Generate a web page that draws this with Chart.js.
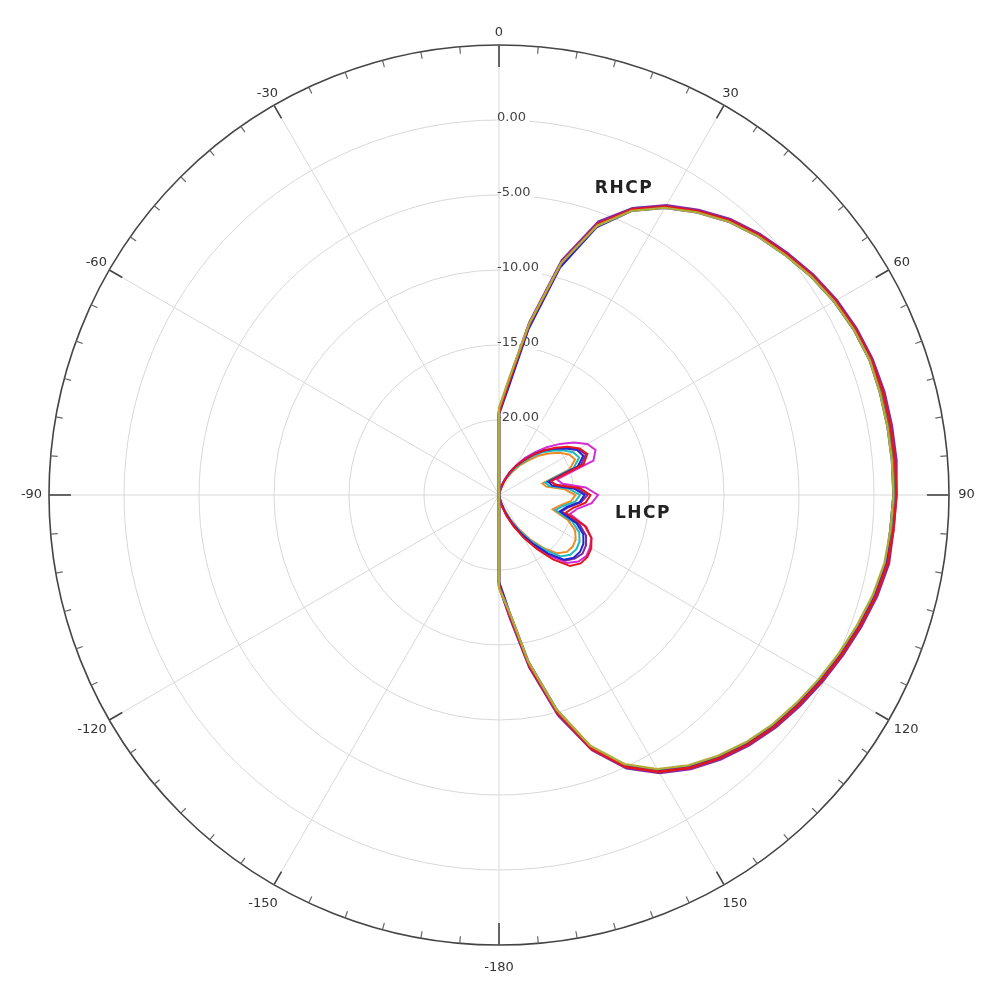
<!DOCTYPE html>
<html>
<head>
<meta charset="utf-8">
<title>Polar pattern RHCP / LHCP</title>
<script src="https://cdn.jsdelivr.net/npm/chart.js@4"></script>
<style>
  html, body { margin: 0; padding: 0; background: #fff; }
  canvas { display: block; }
</style>
</head>
<body>
<canvas id="chart" width="1000" height="1000"></canvas>
<script>
// angle of each spoke, clockwise from the top (degrees)
const ANGLES = [0, 5, 10, 15, 20, 25, 30, 35, 40, 45, 50, 55, 60, 65, 70, 75, 80, 85,
  90, 95, 100, 105, 110, 115, 120, 125, 130, 135, 140, 145, 150, 155, 160, 165, 170, 175,
  -180, -175, -170, -165, -160, -155, -150, -145, -140, -135, -130, -125, -120, -115, -110,
  -105, -100, -95, -90, -85, -80, -75, -70, -65, -60, -55, -50, -45, -40, -35, -30, -25,
  -20, -15, -10, -5];
const LABELED = [0, 30, 60, 90, 120, 150, -180, -150, -120, -90, -60, -30];
const RADIAL_TICKS = [-20, -15, -10, -5, 0];
const R_MIN = -25;
const R_MAX = 5;

// gain in dB, 0..180 deg in 5 deg steps; on the left half (-175..-5) every trace sits at the centre
const rhcpOlive  = [-19.2, -17.2, -13.4, -9.0, -5.9, -4.1, -2.9, -2.0, -1.2, -0.6, -0.1, 0.4, 0.8, 1.1, 1.3, 1.3, 1.3, 1.3, 1.3, 1.2, 1.1, 0.8, 0.4, 0.0, -0.4, -0.8, -1.2, -1.7, -2.3, -3.0, -3.9, -5.2, -7.2, -10.2, -13.7, -17.2, -18.8];
const rhcpRed    = [-19.5, -17.5, -13.5, -9.0, -5.8, -4.0, -2.8, -1.9, -1.1, -0.5, 0.0, 0.5, 0.9, 1.2, 1.4, 1.5, 1.5, 1.5, 1.5, 1.4, 1.3, 1.0, 0.6, 0.2, -0.2, -0.6, -1.0, -1.5, -2.1, -2.8, -3.7, -5.0, -7.0, -10.0, -13.5, -17.0, -19.0];
const rhcpBlue   = [-19.6, -17.8, -13.8, -9.3, -6.0, -4.1, -2.9, -2.0, -1.2, -0.6, -0.1, 0.4, 0.8, 1.1, 1.3, 1.3, 1.3, 1.3, 1.3, 1.2, 1.2, 0.9, 0.5, 0.1, -0.3, -0.7, -1.1, -1.6, -2.2, -2.9, -3.8, -5.1, -7.1, -10.2, -13.7, -17.2, -19.2];
const rhcpPurple = [-19.4, -17.3, -13.3, -8.8, -5.6, -3.9, -2.7, -1.8, -1.0, -0.4, 0.1, 0.6, 1.0, 1.3, 1.5, 1.6, 1.6, 1.6, 1.5, 1.4, 1.4, 1.1, 0.7, 0.3, -0.1, -0.5, -0.9, -1.4, -2.0, -2.7, -3.6, -4.9, -6.9, -9.8, -13.3, -16.8, -18.9];
const rhcpGreen  = [-19.5, -17.6, -13.6, -9.1, -5.9, -4.0, -2.8, -1.9, -1.1, -0.5, 0.0, 0.4, 0.8, 1.1, 1.3, 1.4, 1.4, 1.4, 1.3, 1.2, 1.2, 0.9, 0.5, 0.1, -0.3, -0.7, -1.1, -1.6, -2.2, -2.9, -3.8, -5.1, -7.1, -10.1, -13.6, -17.1, -19.1];
const rhcpCyan   = [-19.5, -17.4, -13.4, -8.9, -5.7, -3.9, -2.8, -1.9, -1.1, -0.5, 0.0, 0.5, 0.9, 1.2, 1.4, 1.5, 1.5, 1.4, 1.4, 1.3, 1.2, 0.9, 0.5, 0.1, -0.3, -0.7, -1.0, -1.5, -2.1, -2.8, -3.7, -5.0, -7.0, -10.0, -13.4, -16.9, -19.0];

const lhcpMagenta = [-25, -25, -24.8, -24.4, -23.9, -23.3, -22.7, -22.0, -21.3, -20.5, -19.7, -18.9, -18.2, -17.9, -18.3, -21.0, -20.7, -19.2, -18.4, -18.8, -19.7, -20.1, -18.8, -18.2, -18.0, -17.9, -18.1, -18.6, -19.7, -20.9, -21.9, -22.9, -23.7, -24.3, -24.8, -25, -25];
const lhcpRed     = [-25, -25, -24.8, -24.5, -24.0, -23.4, -22.8, -22.2, -21.5, -20.8, -20.1, -19.4, -18.8, -18.5, -19.0, -21.4, -21.2, -19.6, -18.9, -19.2, -20.0, -20.4, -18.9, -18.2, -17.9, -17.8, -17.9, -18.3, -19.4, -20.6, -21.7, -22.7, -23.5, -24.2, -24.8, -25, -25];
const lhcpBlue    = [-25, -25, -24.9, -24.5, -24.0, -23.4, -22.8, -22.2, -21.5, -20.8, -20.2, -19.6, -19.0, -18.8, -19.4, -21.6, -21.4, -20.0, -19.3, -19.6, -20.4, -20.8, -19.5, -18.8, -18.5, -18.4, -18.5, -18.9, -19.9, -21.0, -22.0, -22.9, -23.7, -24.4, -24.9, -25, -25];
const lhcpCyan    = [-25, -25, -24.9, -24.6, -24.1, -23.6, -23.0, -22.4, -21.7, -21.0, -20.4, -19.8, -19.3, -19.1, -19.7, -21.8, -21.6, -20.3, -19.6, -19.9, -20.7, -21.1, -19.8, -19.1, -18.8, -18.7, -18.8, -19.2, -20.2, -21.2, -22.2, -23.1, -23.9, -24.5, -24.9, -25, -25];
const lhcpOrange  = [-25, -25, -24.9, -24.6, -24.2, -23.7, -23.2, -22.6, -22.0, -21.3, -20.7, -20.1, -19.6, -19.4, -20.0, -22.0, -21.8, -20.6, -19.9, -20.2, -20.9, -21.3, -20.1, -19.4, -19.1, -19.0, -19.1, -19.5, -20.4, -21.4, -22.4, -23.2, -24.0, -24.6, -24.9, -25, -25];
const lhcpPurple  = [-25, -25, -24.8, -24.5, -24.0, -23.5, -22.9, -22.3, -21.6, -20.9, -20.2, -19.5, -18.9, -18.6, -19.2, -21.5, -21.1, -19.8, -19.1, -19.5, -20.3, -20.7, -19.3, -18.6, -18.3, -18.2, -18.4, -18.8, -19.8, -20.9, -21.9, -22.8, -23.6, -24.3, -24.8, -25, -25];

const series = [
  { name: 'RHCP 1', data: rhcpOlive, color: '#b0ac3a', width: 2.4 },
  { name: 'RHCP 2', data: rhcpRed, color: '#e3161c', width: 2.4 },
  { name: 'RHCP 3', data: rhcpBlue, color: '#2424cc', width: 2.4 },
  { name: 'RHCP 4', data: rhcpPurple, color: '#8a2a9a', width: 2.4 },
  { name: 'RHCP 5', data: rhcpGreen, color: '#2a9a44', width: 2.4 },
  { name: 'RHCP 6', data: rhcpCyan, color: '#22b8c0', width: 2.4 },
  { name: 'LHCP 1', data: lhcpRed, color: '#e3161c', width: 2 },
  { name: 'LHCP 2', data: lhcpBlue, color: '#2424cc', width: 2 },
  { name: 'LHCP 3', data: lhcpMagenta, color: '#d42cd4', width: 2 },
  { name: 'LHCP 4', data: lhcpCyan, color: '#22b8c0', width: 2 },
  { name: 'LHCP 5', data: lhcpOrange, color: '#f08a24', width: 2 },
  { name: 'LHCP 6', data: lhcpPurple, color: '#7a2a9a', width: 2 }
];
const LEFT_HALF = ANGLES.slice(37).map(() => R_MIN);

// angle labels, radial dB labels, outer ring tick marks and the curve names
const polarDecor = {
  id: 'polarDecor',
  beforeDatasetsDraw(chart) {
    const s = chart.scales.r;
    const ctx = chart.ctx;
    ctx.save();
    ctx.font = '13px "DejaVu Sans"';
    ctx.textAlign = 'left';
    ctx.textBaseline = 'middle';
    RADIAL_TICKS.forEach(v => {
      const y = s.yCenter - s.getDistanceFromCenterForValue(v) - 2;
      const txt = v.toFixed(2);
      const w = ctx.measureText(txt).width;
      ctx.fillStyle = '#fff';
      ctx.fillRect(s.xCenter + 1, y - 7, w, 14);
      ctx.fillStyle = '#444';
      ctx.fillText(txt, s.xCenter - 2, y);
    });
    ctx.restore();
  },
  afterDraw(chart) {
    const s = chart.scales.r;
    const ctx = chart.ctx;
    const R = s.getDistanceFromCenterForValue(R_MAX);
    ctx.save();
    for (let a = 0; a < 360; a += 5) {
      const t = (a - 90) * Math.PI / 180;
      let len = 7;
      if (a % 90 === 0) len = 22;
      else if (a % 30 === 0) len = 15;
      ctx.strokeStyle = len > 7 ? '#444' : '#666';
      ctx.lineWidth = len > 7 ? 1.6 : 1.2;
      ctx.beginPath();
      ctx.moveTo(s.xCenter + Math.cos(t) * R, s.yCenter + Math.sin(t) * R);
      ctx.lineTo(s.xCenter + Math.cos(t) * (R - len), s.yCenter + Math.sin(t) * (R - len));
      ctx.stroke();
    }
    // angle labels, centred just outside the ring
    ctx.fillStyle = '#333';
    ctx.font = '13px "DejaVu Sans"';
    ctx.textAlign = 'center';
    ctx.textBaseline = 'middle';
    LABELED.forEach(a => {
      const t = (a - 90) * Math.PI / 180;
      const rr = R + 17.5 - 5 * Math.cos(a * Math.PI / 180);
      ctx.fillText(String(a), s.xCenter + Math.cos(t) * rr, s.yCenter + Math.sin(t) * rr);
    });
    ctx.fillStyle = '#222';
    ctx.font = 'bold 17px "DejaVu Sans"';
    ctx.letterSpacing = '1.5px';
    ctx.fillText('RHCP', s.xCenter + 125, s.yCenter - 306);
    ctx.fillText('LHCP', s.xCenter + 144, s.yCenter + 19);
    ctx.restore();
  }
};

new Chart(document.getElementById('chart'), {
  type: 'radar',
  data: {
    labels: ANGLES,
    datasets: series.map(d => ({
      label: d.name,
      data: d.data.concat(LEFT_HALF),
      borderColor: d.color,
      backgroundColor: d.color,
      borderWidth: d.width,
      fill: false,
      tension: 0,
      pointRadius: 0
    }))
  },
  options: {
    responsive: false,
    animation: false,
    layout: { padding: { left: 49, right: 51, top: 45, bottom: 55 } },
    plugins: {
      legend: { display: false },
      tooltip: { enabled: false }
    },
    scales: {
      r: {
        min: R_MIN,
        max: R_MAX,
        startAngle: 0,
        ticks: { display: false, stepSize: 5 },
        grid: {
          circular: true,
          color: c => (c.tick && c.tick.value === R_MAX ? '#454545' : '#d8d8d8'),
          lineWidth: c => (c.tick && c.tick.value === R_MAX ? 1.6 : 1)
        },
        angleLines: {
          color: '#d8d8d8',
          lineWidth: c => (LABELED.includes(ANGLES[c.index]) ? 1 : 0)
        },
        pointLabels: { display: false }
      }
    }
  },
  plugins: [polarDecor]
});
</script>
</body>
</html>
